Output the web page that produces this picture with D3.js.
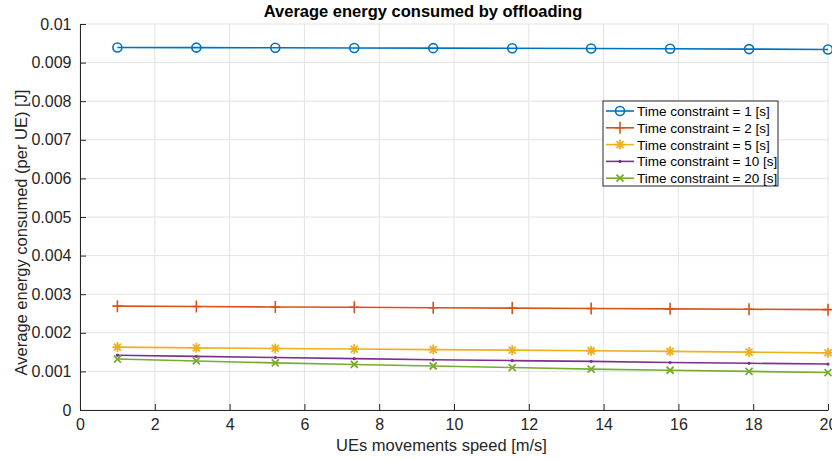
<!DOCTYPE html>
<html>
<head>
<meta charset="utf-8">
<title>Average energy consumed by offloading</title>
<script src="https://d3js.org/d3.v7.min.js"></script>
<style>
  body { margin: 0; background: #fff; }
  text { font-family: "Liberation Sans", Arial, sans-serif; fill: #262626; }
  .title { font-size: 16.5px; font-weight: bold; fill: #000; }
  .tick text { font-size: 16px; }
  .leg text { font-size: 13.5px; fill: #000; }
</style>
</head>
<body>
<div id="chart"></div>
<script>
// speeds: linspace(1,20,10)
var speeds = [1, 3.111, 5.222, 7.333, 9.444, 11.556, 13.667, 15.778, 17.889, 20];
var tc1  = [0.00939, 0.009388, 0.009385, 0.00938, 0.009375, 0.00937, 0.009365, 0.00936, 0.00935, 0.00934];
var tc2  = [0.00269, 0.00268, 0.00267, 0.00266, 0.00265, 0.00264, 0.00263, 0.00262, 0.00261, 0.00260];
var tc5  = [0.00163, 0.00161, 0.001595, 0.00158, 0.001565, 0.00155, 0.001535, 0.00152, 0.00150, 0.00148];
var tc10 = [0.00142, 0.00139, 0.00136, 0.00133, 0.00130, 0.00128, 0.00126, 0.00123, 0.00121, 0.00119];
var tc20 = [0.00132, 0.00127, 0.00122, 0.00118, 0.00114, 0.00110, 0.00106, 0.00103, 0.00100, 0.00097];
var seriesNames = ["Time constraint = 1 [s]", "Time constraint = 2 [s]", "Time constraint = 5 [s]",
                   "Time constraint = 10 [s]", "Time constraint = 20 [s]"];
var xTicks = [0, 2, 4, 6, 8, 10, 12, 14, 16, 18, 20];
var yTicks = [0, 0.001, 0.002, 0.003, 0.004, 0.005, 0.006, 0.007, 0.008, 0.009, 0.01];

var colors = ["#0072BD", "#D95319", "#EDB120", "#7E2F8E", "#77AC30"];
var markers = ["circle", "plus", "star", "dot", "cross"];
var allSeries = [tc1, tc2, tc5, tc10, tc20];

var W = 832, H = 461;
var m = {left: 80, right: 4, top: 24, bottom: 51};

var svg = d3.select("#chart").append("svg").attr("width", W).attr("height", H);

var x = d3.scaleLinear().domain([0, 20]).range([m.left, W - m.right]);
var y = d3.scaleLinear().domain([0, 0.01]).range([H - m.bottom, m.top]);

// grid
svg.append("g").selectAll("line").data(xTicks).enter().append("line")
  .attr("x1", d => x(d)).attr("x2", d => x(d))
  .attr("y1", y(0)).attr("y2", y(0.01))
  .attr("stroke", "#e3e3e3").attr("stroke-width", 1);
svg.append("g").selectAll("line").data(yTicks).enter().append("line")
  .attr("x1", x(0)).attr("x2", x(20))
  .attr("y1", d => y(d)).attr("y2", d => y(d))
  .attr("stroke", "#e3e3e3").attr("stroke-width", 1);

// axes
var xAxis = svg.append("g").attr("transform", "translate(0," + y(0) + ")")
  .call(d3.axisBottom(x).tickValues(xTicks).tickSizeInner(-6).tickSizeOuter(0).tickPadding(9));
var yAxis = svg.append("g").attr("transform", "translate(" + x(0) + ",0)")
  .call(d3.axisLeft(y).tickValues(yTicks).tickSizeInner(-6).tickSizeOuter(0).tickPadding(8.5)
    .tickFormat(d => d === 0 ? "0" : d3.format("")(+d.toFixed(3))));
[xAxis, yAxis].forEach(function(a) {
  a.select(".domain").attr("stroke", "#262626").attr("stroke-width", 1);
  a.selectAll(".tick line").attr("stroke", "#262626");
  a.selectAll(".tick text").attr("fill", "#262626");
});

function drawMarker(g, type, color) {
  if (type === "circle") {
    g.append("circle").attr("r", 4.5).attr("fill", "none").attr("stroke", color).attr("stroke-width", 1.6);
  } else if (type === "plus") {
    g.append("path").attr("d", "M-5,0H5M0,-6V6").attr("stroke", color).attr("stroke-width", 1.6);
  } else if (type === "star") {
    g.append("path").attr("d", "M-5,0H5M0,-5V5M-3.5,-3.5L3.5,3.5M-3.5,3.5L3.5,-3.5")
      .attr("stroke", color).attr("stroke-width", 1.8);
  } else if (type === "dot") {
    g.append("circle").attr("r", 1.6).attr("fill", color);
  } else if (type === "cross") {
    g.append("path").attr("d", "M-3.5,-3.5L3.5,3.5M-3.5,3.5L3.5,-3.5").attr("stroke", color).attr("stroke-width", 1.8);
  }
}

var line = d3.line().x((d, i) => x(speeds[i])).y(d => y(d));

allSeries.forEach(function(s, k) {
  svg.append("path").datum(s).attr("d", line)
    .attr("fill", "none").attr("stroke", colors[k]).attr("stroke-width", 1.6);
  s.forEach(function(v, i) {
    var g = svg.append("g").attr("transform", "translate(" + x(speeds[i]) + "," + y(v) + ")");
    drawMarker(g, markers[k], colors[k]);
  });
});

// title
svg.append("text").attr("class", "title")
  .attr("x", 423).attr("y", 17).attr("text-anchor", "middle")
  .text("Average energy consumed by offloading");

// axis labels
svg.append("text").attr("x", 441.5).attr("y", 451).attr("text-anchor", "middle")
  .style("font-size", "16.5px").text("UEs movements speed [m/s]");
svg.append("text").attr("transform", "translate(26.5,232.5) rotate(-90)")
  .attr("text-anchor", "middle").style("font-size", "16.5px")
  .text("Average energy consumed (per UE) [J]");

// legend
var leg = svg.append("g").attr("class", "leg").attr("transform", "translate(603,101)");
leg.append("rect").attr("width", 175).attr("height", 85)
  .attr("fill", "#fff").attr("stroke", "#262626").attr("stroke-width", 1);
seriesNames.forEach(function(name, k) {
  var ry = 10 + k * 16.8;
  leg.append("line").attr("x1", 3).attr("x2", 31).attr("y1", ry).attr("y2", ry)
    .attr("stroke", colors[k]).attr("stroke-width", 1.6);
  var g = leg.append("g").attr("transform", "translate(17," + ry + ")");
  drawMarker(g, markers[k], colors[k]);
  leg.append("text").attr("x", 34).attr("y", ry + 5).text(name);
});
</script>
</body>
</html>
